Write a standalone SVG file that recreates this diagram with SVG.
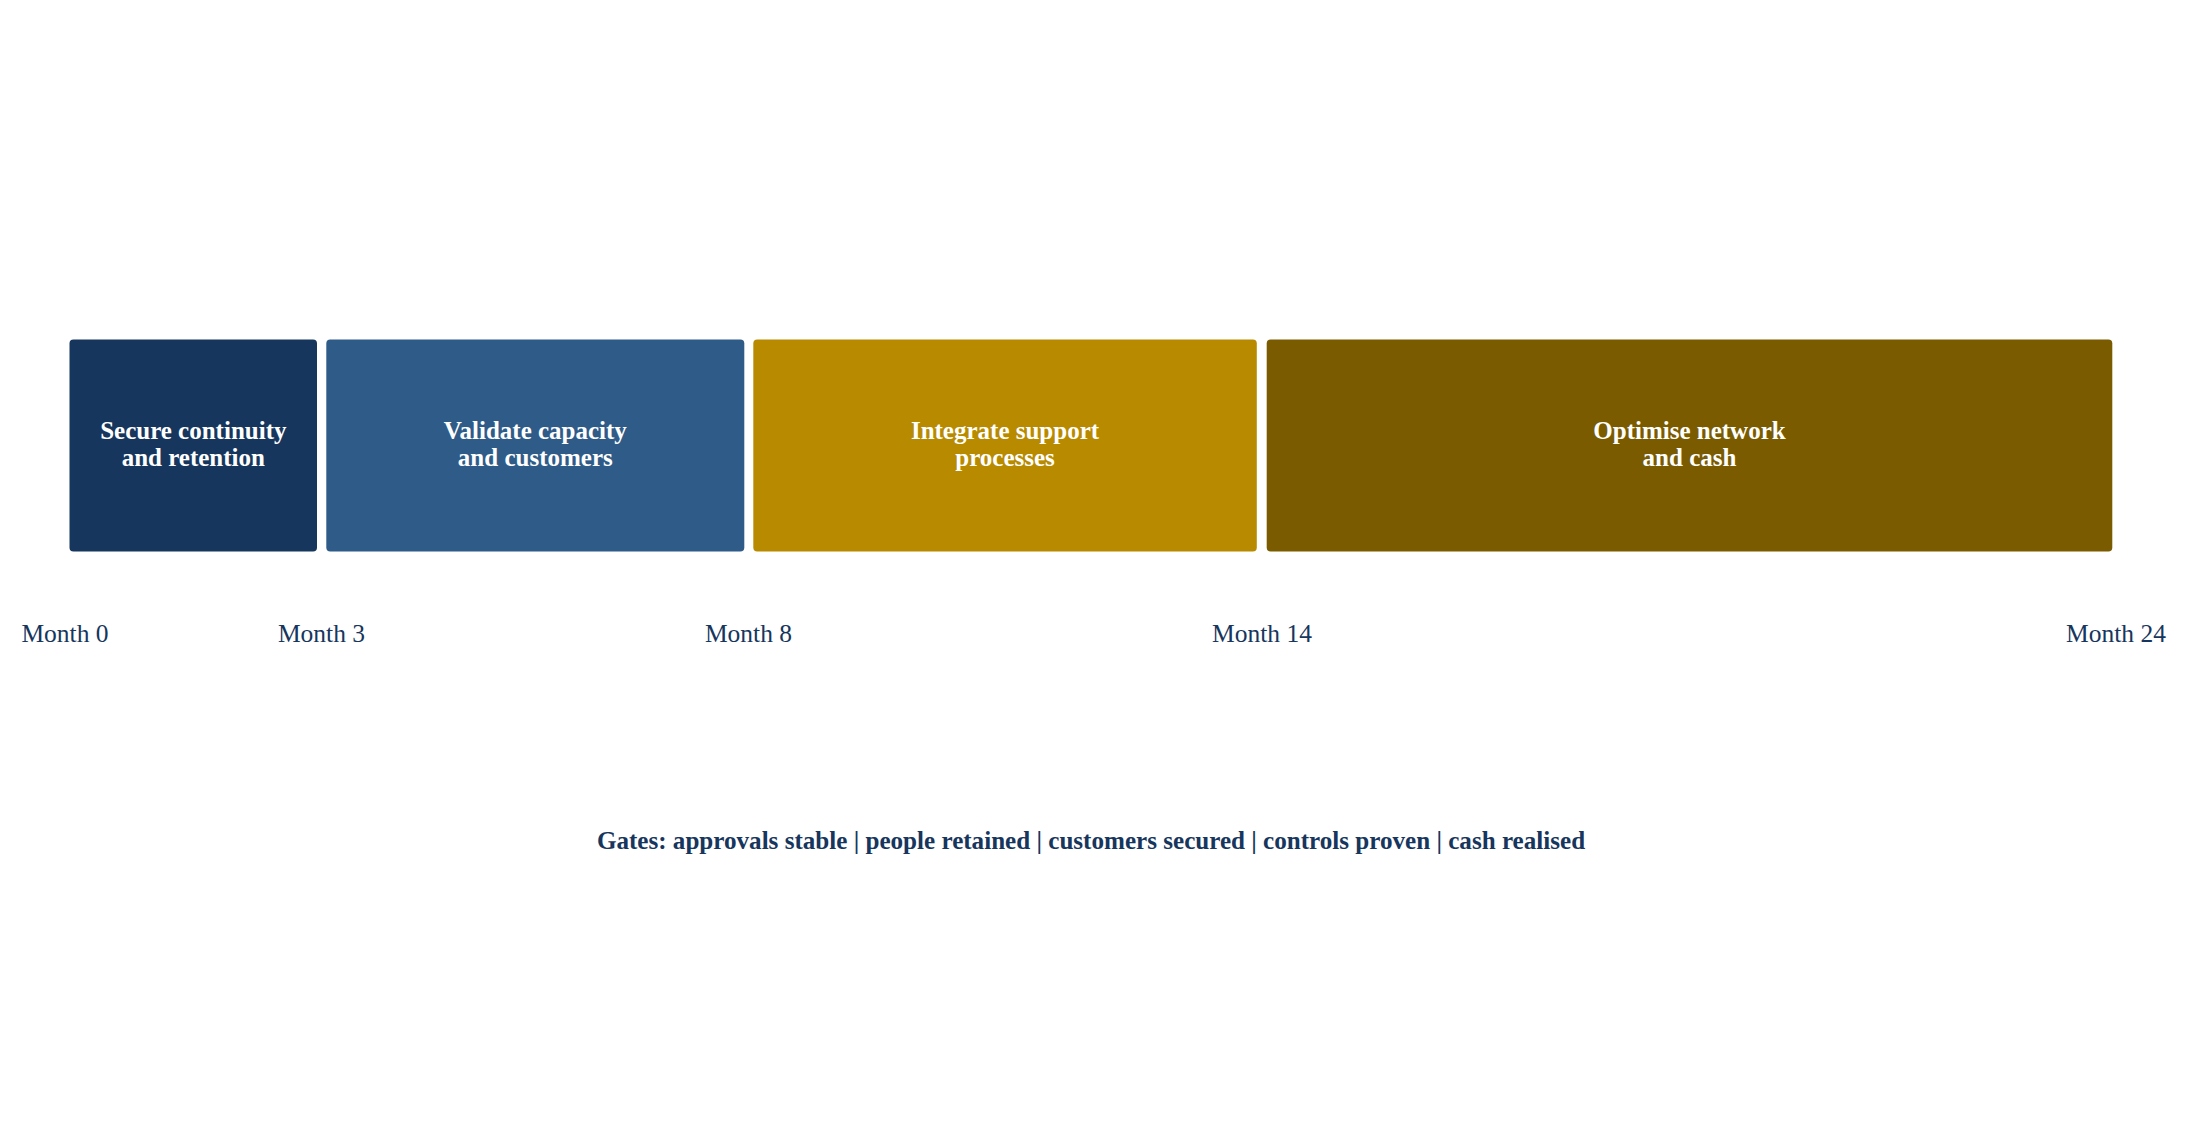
<svg xmlns="http://www.w3.org/2000/svg" width="2188" height="1133" viewBox="0 0 2188 1133">
<style>
.phase{stroke:none}
.ptxt{font-family:"Liberation Serif","Times New Roman",serif;font-weight:bold;font-size:25px;fill:#ffffff;text-anchor:middle}
.mtxt{font-family:"Liberation Serif","Times New Roman",serif;font-size:25.5px;fill:#17365D;text-anchor:middle}
.gtxt{font-family:"Liberation Serif","Times New Roman",serif;font-weight:bold;font-size:25.1px;fill:#17365D;text-anchor:middle}
</style>
<rect width="2188" height="1133" fill="#ffffff"/>
<g id="connectors"></g>
<g id="phase1">
<rect class="phase" x="69.5" y="339.5" width="247.5" height="212" rx="4" fill="#17365D"/>
<text class="ptxt" x="193.3" y="439">Secure continuity</text>
<text class="ptxt" x="193.3" y="466">and retention</text>
</g>
<g id="phase2">
<rect class="phase" x="326.3" y="339.5" width="418" height="212" rx="4" fill="#2E5B87"/>
<text class="ptxt" x="535.3" y="439">Validate capacity</text>
<text class="ptxt" x="535.3" y="466">and customers</text>
</g>
<g id="phase3">
<rect class="phase" x="753.3" y="339.5" width="503.5" height="212" rx="4" fill="#B88A00"/>
<text class="ptxt" x="1005" y="439">Integrate support</text>
<text class="ptxt" x="1005" y="466">processes</text>
</g>
<g id="phase4">
<rect class="phase" x="1266.7" y="339.5" width="845.6" height="212" rx="4" fill="#7A5B00"/>
<text class="ptxt" x="1689.5" y="439">Optimise network</text>
<text class="ptxt" x="1689.5" y="466">and cash</text>
</g>
<g id="axis">
<text class="mtxt" x="65" y="642">Month 0</text>
<text class="mtxt" x="321.5" y="642">Month 3</text>
<text class="mtxt" x="748.5" y="642">Month 8</text>
<text class="mtxt" x="1262" y="642">Month 14</text>
<text class="mtxt" x="2116" y="642">Month 24</text>
</g>
<g id="gates">
<text class="gtxt" x="1091" y="849">Gates: approvals stable | people retained | customers secured | controls proven | cash realised</text>
</g>
</svg>
